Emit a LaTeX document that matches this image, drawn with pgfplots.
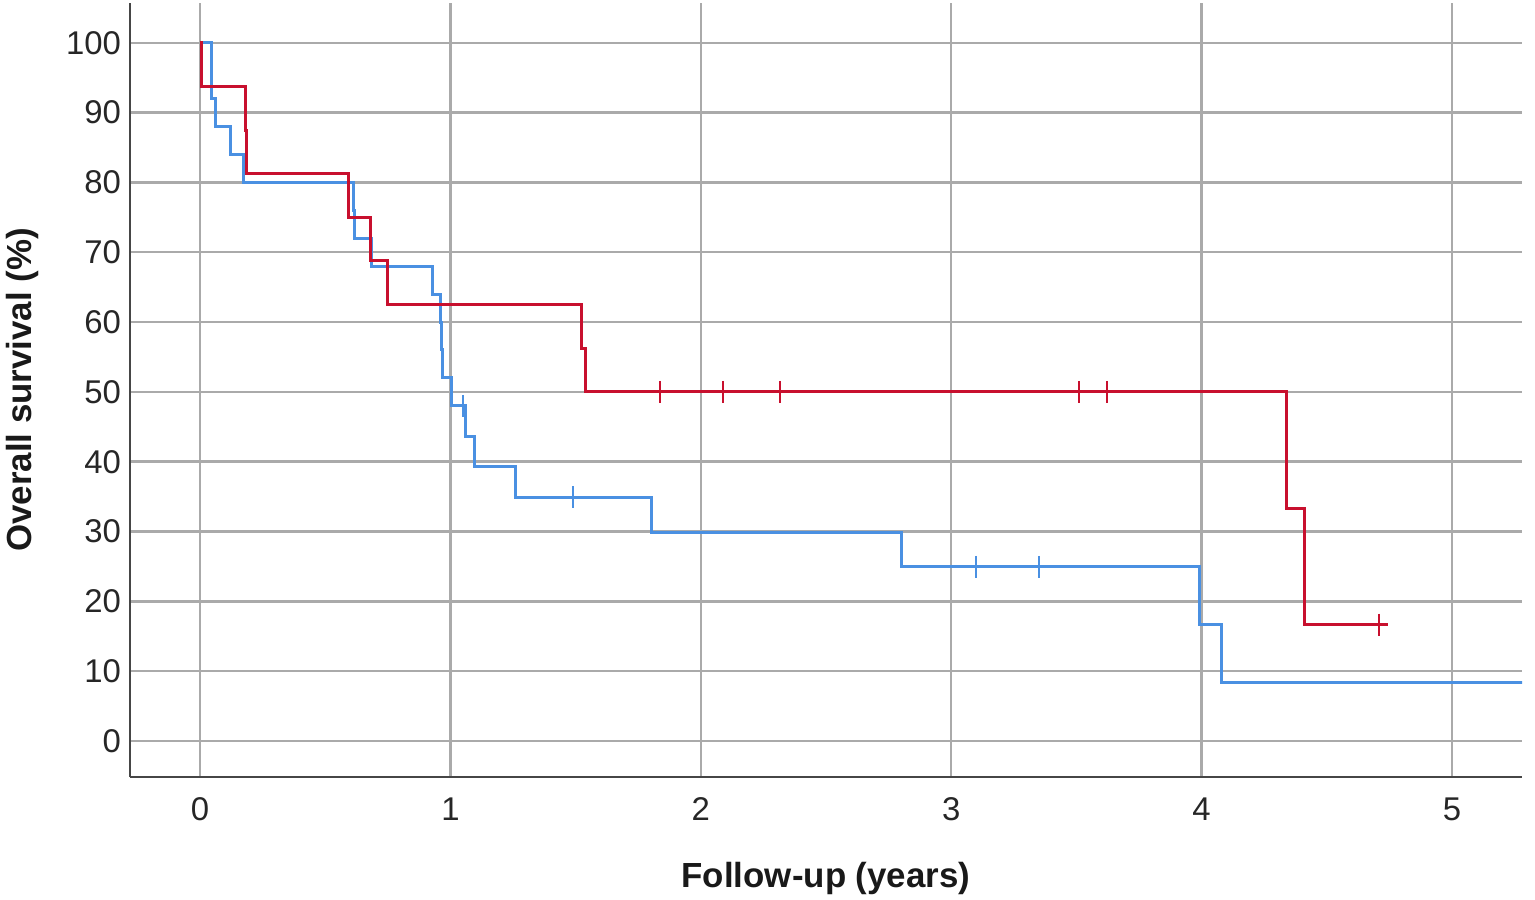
\documentclass[border=0pt]{standalone}
\usepackage{pgfplots}
\pgfplotsset{compat=1.18}
\usepackage{fontspec}
\setmainfont{Liberation Sans}
\definecolor{kmred}{RGB}{200,16,46}
\definecolor{kmblue}{RGB}{74,144,226}
\definecolor{gridgray}{RGB}{170,170,170}
\definecolor{axisgray}{RGB}{70,70,70}
\begin{document}
\begin{tikzpicture}
\useasboundingbox (-65bp,-61.5bp) rectangle (702.5bp,388.5bp);
\begin{axis}[
  at={(0,0)}, anchor=south west,
  scale only axis, width=696bp, height=387bp,
  xmin=-0.2796, xmax=5.2796, ymin=-5.16, ymax=105.7,
  xtick={0,1,2,3,4,5}, ytick={0,10,...,100},
  grid=major,
  major grid style={gridgray, line width=1.2bp},
  axis x line*=bottom, axis y line*=left,
  axis line style={axisgray, line width=1bp, -},
  major tick length=0pt,
  tick label style={font=\fontsize{16.5}{19}\selectfont, text=black!85},
  /pgf/number format/assume math mode=true,
  xticklabel style={yshift=-7bp},
  yticklabel style={xshift=-1bp},
  xlabel={Follow-up (years)}, ylabel={Overall survival (\%)},
  label style={font=\fontsize{17.5}{20}\selectfont\bfseries, text=black!90},
  xlabel style={at={(axis description cs:0.5,-0.131)}, anchor=center},
  ylabel style={at={(axis description cs:-0.0775,0.5)}, anchor=center},
  clip=true,
]
% blue group
\addplot[const plot, kmblue, line width=1.5bp] coordinates {
(0,100) (0.044,96) (0.046,92) (0.06,88) (0.12,84) (0.173,80)
(0.612,76) (0.616,72) (0.686,68) (0.93,64) (0.961,60) (0.966,56) (0.968,52)
(1.005,48) (1.062,43.64) (1.098,39.27) (1.26,34.91) (1.804,29.93)
(2.80,24.94) (3.993,16.63) (4.08,8.31) (5.35,8.31)};
% red group
\addplot[const plot, kmred, line width=1.5bp] coordinates {
(0,100) (0.004,93.75) (0.18,87.5) (0.187,81.25) (0.595,75) (0.68,68.75)
(0.748,62.5) (1.524,56.25) (1.54,50) (4.34,33.33) (4.41,16.67) (4.745,16.67)};
% censored marks
\addplot[only marks, mark=|, mark size=5.5bp, kmblue, mark options={line width=1bp}] coordinates {
(1.05,48) (1.49,34.91) (3.10,24.94) (3.35,24.94)};
\addplot[only marks, mark=|, mark size=5.5bp, kmred, mark options={line width=1bp}] coordinates {
(1.837,50) (2.09,50) (2.316,50) (3.51,50) (3.622,50) (4.71,16.67)};
\end{axis}
\end{tikzpicture}
\end{document}
